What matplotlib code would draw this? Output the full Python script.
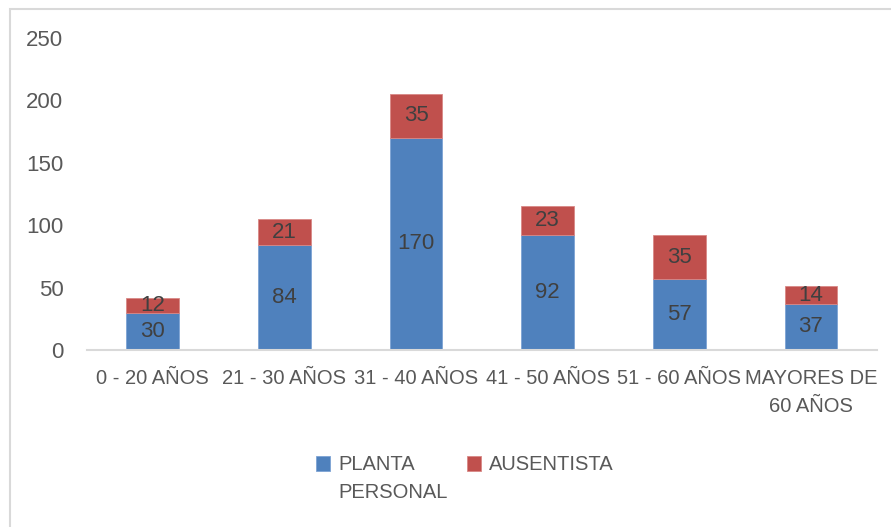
import matplotlib.pyplot as plt
from matplotlib.patches import Rectangle

# datos
categorias = ["0 - 20 AÑOS", "21 - 30 AÑOS", "31 - 40 AÑOS", "41 - 50 AÑOS",
              "51 - 60 AÑOS", "MAYORES DE\n60 AÑOS"]
planta = [30, 84, 170, 92, 57, 37]
ausentista = [12, 21, 35, 23, 35, 14]
yticks = [0, 50, 100, 150, 200, 250]

azul = "#4F81BD"
rojo = "#C0504D"
gris_txt = "#595959"
fs = 14.5

plt.rcParams["font.family"] = ["Liberation Sans", "DejaVu Sans"]

fig = plt.figure(figsize=(8.91, 5.27), dpi=100)
ax = fig.add_axes([0.0976, 0.3359, 0.8864, 0.592])

x = range(len(categorias))
b1 = ax.bar(x, planta, width=0.4, color=azul, edgecolor="#7DA3D4", linewidth=0.6,
            label="PLANTA")
b2 = ax.bar(x, ausentista, width=0.4, bottom=planta, color=rojo, edgecolor="#D98886",
            linewidth=0.6, label="AUSENTISTA")

ax.bar_label(b1, labels=[str(v) for v in planta], label_type="center",
             fontsize=fs + 1.5, color="#404040")
ax.bar_label(b2, labels=[str(v) for v in ausentista], label_type="center",
             fontsize=fs + 1.5, color="#404040")

ax.set_xlim(-0.5, len(categorias) - 0.5)
ax.set_ylim(0, 250)
ax.set_yticks(yticks)
ax.set_xticks(list(x))
ax.set_xticklabels(categorias, fontsize=fs, color=gris_txt, linespacing=1.55)
ax.tick_params(axis="y", length=0, labelsize=fs + 1.5, labelcolor=gris_txt, pad=17)
ax.tick_params(axis="x", length=0, pad=14)

for s in ["top", "right", "left"]:
    ax.spines[s].set_visible(False)
ax.spines["bottom"].set_color("#D9D9D9")
ax.spines["bottom"].set_linewidth(1.5)

leg = fig.legend(loc="center left", bbox_to_anchor=(312 / 891, 1 - 465 / 527), ncol=2,
                 frameon=False, fontsize=fs, handlelength=0.7, handleheight=0.7,
                 handletextpad=0.4, columnspacing=2.6, labelcolor=gris_txt,
                 borderaxespad=0, borderpad=0.2)

# segunda linea de la etiqueta de la leyenda
fig.canvas.draw()
t0 = leg.get_texts()[0]
bb = t0.get_window_extent()
fig.text(bb.x0 / fig.bbox.width, (bb.y0 - 28) / fig.bbox.height, "PERSONAL",
         fontsize=fs, color=gris_txt, ha="left", va="bottom")

# borde del grafico
fig.patches.append(Rectangle((10 / 891, -0.05), 1.1, 1 - 9 / 527 + 0.05,
                             transform=fig.transFigure, fill=False,
                             edgecolor="#D9D9D9", linewidth=1.5))

fig.savefig("out.png", dpi=100)
